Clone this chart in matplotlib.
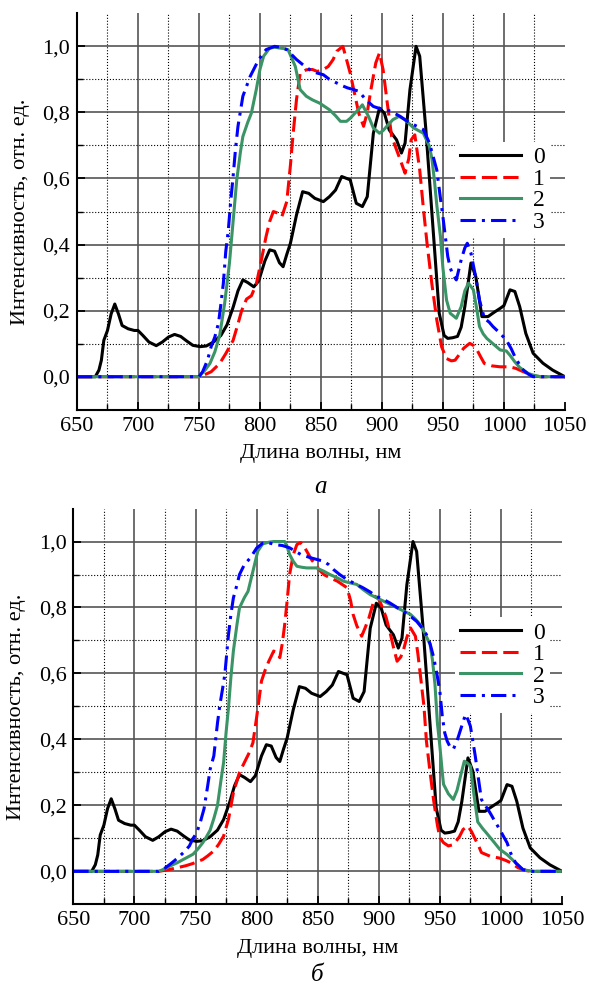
import numpy as np
import matplotlib
matplotlib.use("Agg")
import matplotlib.pyplot as plt
from matplotlib.ticker import FixedLocator, FuncFormatter

plt.rcParams['font.family'] = ['Liberation Serif', 'DejaVu Serif']
plt.rcParams['mathtext.fontset'] = 'stix'

# --- data (wavelength, nm ; intensity, rel. units) ---
# curve 0 (same in both panels)
wl0 = [650, 665, 668, 670, 672, 675, 678, 681, 684, 687, 692, 697, 700, 704, 709, 715, 720, 725, 730, 735,
       740, 745, 751, 756, 762, 768, 773, 778, 782, 786, 790, 795, 799, 804, 808, 812, 816, 819, 822, 825,
       830, 835, 840, 845, 852, 857, 862, 867, 874, 879, 884, 888, 893, 898, 902, 906, 912, 916, 919, 923,
       928, 931, 936, 942, 947, 951, 954, 958, 962, 965, 968, 973, 977, 982, 987, 992, 997, 1000, 1005, 1009,
       1013, 1018, 1024, 1032, 1040, 1050]
i0 = [0, 0, 0.02, 0.05, 0.11, 0.14, 0.19, 0.22, 0.19, 0.155, 0.145, 0.14, 0.14, 0.125, 0.105, 0.094, 0.105, 0.12, 0.128, 0.122,
      0.108, 0.095, 0.091, 0.093, 0.105, 0.125, 0.157, 0.21, 0.26, 0.293, 0.285, 0.272, 0.29, 0.35, 0.384, 0.38, 0.345, 0.333, 0.37, 0.404,
      0.49, 0.56, 0.555, 0.54, 0.53, 0.545, 0.565, 0.606, 0.596, 0.525, 0.515, 0.545, 0.737, 0.813, 0.798, 0.747, 0.717, 0.677, 0.707, 0.869,
      1.0, 0.97, 0.75, 0.445, 0.192, 0.125, 0.116, 0.118, 0.122, 0.15, 0.212, 0.344, 0.303, 0.182, 0.182, 0.195, 0.207, 0.215, 0.263, 0.258,
      0.212, 0.131, 0.071, 0.041, 0.02, 0.0]

# panel a
wl1a = [650, 750, 754, 760, 767, 772, 778, 782, 785, 789, 793, 797, 801, 805, 808, 811, 815, 818, 822, 825,
        827, 830, 833, 838, 843, 847, 852, 856, 860, 863, 868, 871, 874, 878, 881, 885, 888, 891, 895, 898,
        901, 904, 908, 913, 919, 922, 924, 927, 931, 934, 937, 941, 945, 949, 953, 957, 960, 963, 967, 972,
        975, 978, 981, 984, 990, 997, 1005, 1010, 1016, 1024, 1030, 1050]
i1a = [0, 0, 0.005, 0.015, 0.04, 0.07, 0.11, 0.16, 0.2, 0.235, 0.245, 0.28, 0.35, 0.424, 0.47, 0.5, 0.495, 0.485, 0.53, 0.64,
       0.727, 0.84, 0.919, 0.929, 0.93, 0.924, 0.93, 0.939, 0.96, 0.985, 1.0, 0.96, 0.919, 0.85, 0.798, 0.758, 0.8, 0.869, 0.95, 0.98,
       0.929, 0.84, 0.727, 0.677, 0.616, 0.66, 0.717, 0.732, 0.626, 0.51, 0.404, 0.28, 0.172, 0.09, 0.055, 0.048, 0.05, 0.065, 0.086, 0.101,
       0.095, 0.081, 0.06, 0.04, 0.033, 0.03, 0.03, 0.025, 0.015, 0.003, 0, 0]

wl2a = [650, 750, 751, 755, 759, 763, 767, 771, 775, 778, 781, 784, 786, 790, 793, 797, 800, 803, 808, 812,
        816, 820, 823, 826, 829, 833, 838, 843, 849, 857, 862, 866, 871, 874, 878, 881, 884, 889, 893, 898,
        901, 904, 909, 914, 919, 926, 934, 939, 941, 943, 945, 948, 950, 953, 956, 961, 965, 968, 971, 975,
        978, 980, 983, 986, 991, 997, 1002, 1005, 1009, 1013, 1016, 1020, 1024, 1030, 1050]
i2a = [0, 0, 0.005, 0.02, 0.04, 0.075, 0.125, 0.22, 0.344, 0.47, 0.596, 0.68, 0.727, 0.77, 0.798, 0.869, 0.93, 0.97, 0.995, 0.997,
       0.995, 0.993, 0.99, 0.965, 0.939, 0.869, 0.849, 0.838, 0.828, 0.808, 0.79, 0.773, 0.773, 0.782, 0.798, 0.81, 0.823, 0.788, 0.753, 0.737,
       0.745, 0.758, 0.778, 0.788, 0.778, 0.753, 0.737, 0.697, 0.66, 0.596, 0.52, 0.424, 0.33, 0.232, 0.192, 0.177, 0.212, 0.26, 0.283, 0.263,
       0.2, 0.152, 0.13, 0.116, 0.1, 0.081, 0.078, 0.065, 0.045, 0.028, 0.02, 0.01, 0.005, 0, 0]

wl3a = [650, 750, 753, 757, 760, 763, 766, 768, 770, 772, 774, 776, 778, 780, 782, 786, 792, 799, 805, 812,
        817, 822, 826, 830, 835, 841, 846, 852, 857, 863, 868, 872, 876, 881, 887, 893, 898, 904, 909, 915,
        920, 926, 934, 939, 945, 948, 950, 954, 956, 958, 961, 965, 968, 970, 973, 977, 980, 984, 988, 991,
        997, 1002, 1006, 1009, 1013, 1016, 1020, 1024, 1050]
i3a = [0, 0, 0.015, 0.05, 0.091, 0.12, 0.162, 0.22, 0.283, 0.38, 0.44, 0.53, 0.606, 0.69, 0.758, 0.849, 0.909, 0.96, 0.99, 1.0,
       0.997, 0.99, 0.975, 0.96, 0.945, 0.929, 0.92, 0.914, 0.9, 0.889, 0.88, 0.874, 0.87, 0.864, 0.838, 0.818, 0.812, 0.808, 0.8, 0.788,
       0.775, 0.763, 0.748, 0.707, 0.626, 0.54, 0.485, 0.364, 0.33, 0.31, 0.293, 0.354, 0.39, 0.404, 0.374, 0.3, 0.232, 0.177, 0.165, 0.152,
       0.131, 0.111, 0.085, 0.061, 0.035, 0.02, 0.008, 0, 0]

# panel b
wl1b = [650, 720, 728, 735, 742, 748, 752, 756, 760, 765, 769, 773, 777, 781, 786, 790, 794, 797, 800, 804,
        807, 810, 814, 817, 819, 821, 823, 825, 827, 830, 833, 836, 838, 841, 845, 848, 851, 855, 860, 866,
        870, 874, 877, 879, 882, 886, 889, 892, 897, 900, 902, 906, 909, 912, 915, 918, 920, 923, 926, 930,
        932, 934, 937, 939, 942, 945, 948, 950, 953, 957, 960, 963, 966, 969, 973, 976, 979, 982, 984, 991,
        999, 1004, 1008, 1014, 1021, 1026, 1050]
i1b = [0, 0, 0.005, 0.011, 0.017, 0.024, 0.03, 0.036, 0.047, 0.062, 0.082, 0.107, 0.158, 0.238, 0.3, 0.33, 0.36, 0.39, 0.466, 0.577,
       0.61, 0.637, 0.668, 0.66, 0.648, 0.69, 0.748, 0.82, 0.9, 0.96, 0.991, 0.997, 0.99, 0.971, 0.945, 0.93, 0.915, 0.9, 0.89, 0.88,
       0.87, 0.86, 0.82, 0.779, 0.745, 0.713, 0.74, 0.769, 0.834, 0.825, 0.809, 0.77, 0.728, 0.68, 0.637, 0.65, 0.668, 0.71, 0.738, 0.713,
       0.66, 0.597, 0.5, 0.395, 0.3, 0.213, 0.14, 0.102, 0.087, 0.077, 0.08, 0.09, 0.105, 0.127, 0.137, 0.12, 0.097, 0.075, 0.057, 0.046,
       0.04, 0.033, 0.026, 0.011, 0.002, 0, 0]

wl2b = [650, 720, 725, 729, 735, 740, 745, 748, 752, 756, 759, 762, 765, 768, 771, 773, 775, 777, 779, 781,
        784, 786, 790, 793, 797, 801, 805, 810, 814, 819, 823, 825, 827, 830, 833, 837, 841, 849, 855, 860,
        866, 871, 876, 882, 887, 893, 898, 904, 909, 915, 920, 926, 930, 934, 938, 942, 944, 946, 948, 950,
        952, 953, 957, 961, 964, 967, 970, 972, 975, 978, 981, 985, 988, 994, 999, 1005, 1012, 1018, 1026, 1050]
i2b = [0, 0, 0.008, 0.016, 0.026, 0.036, 0.046, 0.052, 0.068, 0.087, 0.105, 0.125, 0.16, 0.2, 0.28, 0.33, 0.42, 0.496, 0.59, 0.668,
       0.75, 0.799, 0.83, 0.849, 0.91, 0.971, 0.993, 0.998, 1.0, 1.0, 1.0, 0.985, 0.961, 0.94, 0.925, 0.922, 0.92, 0.92, 0.91, 0.9,
       0.89, 0.88, 0.875, 0.87, 0.855, 0.839, 0.83, 0.819, 0.81, 0.799, 0.79, 0.779, 0.765, 0.748, 0.72, 0.688, 0.64, 0.567, 0.45, 0.38,
       0.3, 0.264, 0.235, 0.218, 0.245, 0.29, 0.334, 0.33, 0.319, 0.23, 0.15, 0.13, 0.117, 0.09, 0.067, 0.051, 0.026, 0.005, 0, 0]

wl3b = [650, 720, 725, 729, 733, 737, 741, 745, 748, 751, 754, 757, 760, 762, 765, 768, 770, 772, 774, 777,
        779, 781, 784, 786, 790, 795, 800, 805, 810, 816, 821, 827, 832, 836, 844, 850, 855, 859, 863, 868,
        874, 880, 887, 893, 898, 904, 909, 915, 920, 926, 931, 935, 939, 942, 945, 948, 950, 952, 954, 956,
        958, 961, 964, 967, 971, 973, 975, 977, 979, 982, 984, 988, 991, 995, 999, 1003, 1005, 1008, 1012, 1018,
        1026, 1050]
i3b = [0, 0, 0.01, 0.021, 0.033, 0.046, 0.06, 0.077, 0.1, 0.117, 0.15, 0.19, 0.26, 0.31, 0.35, 0.45, 0.506, 0.55, 0.597, 0.718,
       0.78, 0.829, 0.87, 0.9, 0.93, 0.951, 0.98, 0.995, 0.996, 0.99, 0.988, 0.981, 0.97, 0.961, 0.951, 0.945, 0.94, 0.93, 0.915, 0.9,
       0.885, 0.873, 0.86, 0.847, 0.834, 0.824, 0.814, 0.8, 0.789, 0.773, 0.758, 0.74, 0.718, 0.69, 0.648, 0.59, 0.546, 0.47, 0.42, 0.395,
       0.38, 0.37, 0.395, 0.43, 0.476, 0.46, 0.44, 0.395, 0.349, 0.27, 0.218, 0.195, 0.178, 0.152, 0.127, 0.1, 0.087, 0.055, 0.026, 0.005,
       0, 0]

labels = ['0', '1', '2', '3']
xticks = [650, 700, 750, 800, 850, 900, 950, 1000, 1050]
yticks = [0.0, 0.2, 0.4, 0.6, 0.8, 1.0]

fig = plt.figure(figsize=(5.89, 9.85), dpi=100)
ax1 = fig.add_axes([0.1307, 0.584, 0.8283, 0.4025])
ax2 = fig.add_axes([0.1245, 0.0819, 0.8297, 0.4018])


def comma(v, pos):
    return ('%.1f' % v).replace('.', ',')


def draw(ax, curves, leg_xy, letter, letter_y):
    styles = [dict(color='black', ls='-'),
              dict(color='#ff0000', ls=(0, (5, 2))),
              dict(color='#3a9465', ls='-'),
              dict(color='#0000ff', ls=(0, (5, 2, 1, 2)))]
    for (x, y), st, lab in zip(curves, styles, labels):
        ax.plot(x, y, lw=2.2, label=lab, **st)
    ax.set_xlim(650, 1050)
    ax.set_ylim(-0.1, 1.1)
    ax.xaxis.set_major_locator(FixedLocator(xticks))
    ax.xaxis.set_minor_locator(FixedLocator(np.arange(675, 1050, 50)))
    ax.yaxis.set_major_locator(FixedLocator(yticks))
    ax.yaxis.set_minor_locator(FixedLocator([0.1, 0.3, 0.5, 0.7, 0.9]))
    ax.yaxis.set_major_formatter(FuncFormatter(comma))
    ax.grid(which='major', color='#555555', lw=1.2, ls='-')
    ax.grid(which='minor', color='black', lw=0.8, ls=':')
    ax.xaxis.get_gridlines()[-1].set_visible(False)
    ax.set_axisbelow(True)
    ax.spines['top'].set_visible(False)
    ax.spines['right'].set_visible(False)
    for s in ['left', 'bottom']:
        ax.spines[s].set_linewidth(1.5)
    ax.tick_params(which='major', direction='in', length=6, width=1.3, labelsize=16, pad=5)
    ax.tick_params(which='minor', direction='in', length=4, width=1.0)
    ax.set_xlabel('Длина волны, нм', fontsize=16, labelpad=6)
    ax.set_ylabel('Интенсивность, отн. ед.', fontsize=16, labelpad=9)
    ax.legend(loc='upper left', bbox_to_anchor=leg_xy, fontsize=17, frameon=True,
              fancybox=False, edgecolor='none', framealpha=1, handlelength=2.6,
              handletextpad=0.5, labelspacing=0.0, borderpad=0.2, borderaxespad=0)
    ax.text(0.5, letter_y, letter, transform=ax.transAxes, ha='center', va='center',
            fontsize=18, style='italic')


draw(ax1, [(wl0, i0), (wl1a, i1a), (wl2a, i2a), (wl3a, i3a)], (0.775, 0.675), 'а', -0.195)
draw(ax2, [(wl0, i0), (wl1b, i1b), (wl2b, i2b), (wl3b, i3b)], (0.781, 0.725), 'б', -0.178)

fig.savefig('out.png', dpi=100)
